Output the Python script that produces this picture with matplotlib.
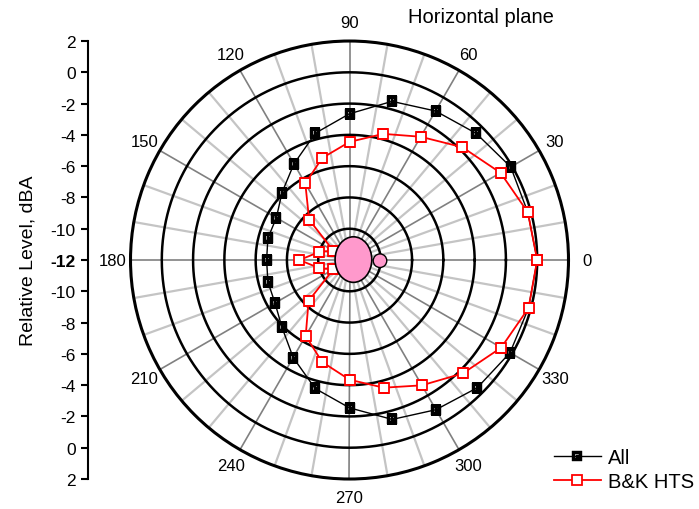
import numpy as np
import matplotlib
matplotlib.use('Agg')
from matplotlib import pyplot as plt
from matplotlib.path import Path
from matplotlib.patches import Ellipse, Circle
from matplotlib.ticker import FixedLocator

plt.rcParams['font.family'] = ['Liberation Sans', 'DejaVu Sans']

# angles in degrees, levels in dBA
angles = [0, 15, 30, 45, 60, 75, 90, 105, 120, 135, 150, 165,
          180, 195, 210, 225, 240, 255, 270, 285, 300, 315, 330, 345]
level_all = [0.0, -0.2, -0.1, -0.55, -1.0, -1.5, -2.65, -3.6, -4.9, -5.9, -6.6, -6.6,
             -6.7, -6.6, -6.5, -5.9, -4.8, -3.5, -2.55, -1.45, -0.95, -0.45, -0.15, -0.15]
level_bk = [0.0, -0.2, -0.85, -1.8, -2.9, -3.65, -4.45, -5.25, -6.35, -8.35, -10.8, -10.0,
            -8.8, -10.0, -10.8, -8.3, -6.4, -5.25, -4.35, -3.55, -2.75, -1.75, -0.8, -0.15]
ring_levels = [0, -2, -4, -6, -8, -10]
left_ticks = [-14, -12, -10, -8, -6, -4, -2, 0, 2, 4, 6, 8, 10, 12, 14]

# close the curves
th = np.deg2rad(angles + [angles[0]])
r_all = level_all + [level_all[0]]
r_bk = level_bk + [level_bk[0]]

# black square marker with a white notch (Origin look)
verts = [(-1, -1), (1, -1), (1, 1), (-1, 1), (-1, -1),
         (-0.55, -0.55), (-0.55, 0.55), (0.55, 0.55), (0.55, -0.55), (-0.55, -0.55),
         (-0.2, -0.55), (0.55, -0.55), (0.55, 0.2), (-0.2, 0.2), (-0.2, -0.55)]
codes = ([Path.MOVETO] + [Path.LINETO] * 3 + [Path.CLOSEPOLY]) * 3
mk_all = Path(verts, codes)

fig = plt.figure(figsize=(6.99, 5.10), dpi=100)
ax = fig.add_axes([0.1867, 0.0588, 0.6266, 0.8588], projection='polar')
ax.set_ylim(-12, 2)

ax.set_xticks(np.deg2rad(np.arange(0, 360, 30)))
ax.set_xticklabels([str(a) for a in range(0, 360, 30)], fontsize=12)
ax.xaxis.set_minor_locator(FixedLocator(np.deg2rad([a for a in range(0, 360, 10) if a % 30])))
ax.grid(True, which='major', axis='x', color='#808080', lw=1.2)
ax.grid(True, which='minor', axis='x', color='#c4c4c4', lw=1.6)
ax.tick_params(axis='x', which='both', direction='in', length=4, width=1, color='black', pad=6)

ax.set_yticks(ring_levels)
ax.set_yticklabels([])
ax.grid(False, axis='y')
ax.tick_params(axis='y', length=0)
ax.spines['polar'].set_linewidth(2.2)

# level rings
circ = np.linspace(0, 2 * np.pi, 361)
for lv in ring_levels:
    ax.plot(circ, np.full_like(circ, lv), color='black', lw=1.8, zorder=2)

ax.plot(th, r_all, color='black', lw=1, marker=mk_all, ms=6.5, mfc='black', mec='black',
        mew=0.3, label='All', zorder=5)
ax.plot(th, r_bk, color='red', lw=1.3, marker='s', ms=6.5, mfc='white', mec='red',
        mew=1.3, label='B&K HTS', zorder=6)

# head sketch in the middle
ax.add_patch(Ellipse((0.509, 0.501), 0.0838, 0.104, transform=ax.transAxes,
                     fc='#ff99cc', ec='black', lw=1.2, zorder=8))
ax.add_patch(Circle((0.5696, 0.4984), 0.0155, transform=ax.transAxes,
                    fc='#ff99cc', ec='black', lw=1, zorder=7))

# left scale
axl = fig.add_axes([0.1259, 0.0588, 0.0001, 0.8588])
axl.set_ylim(-14, 14)
axl.set_yticks(left_ticks)
axl.set_yticklabels([str(abs(t) - 12) for t in left_ticks], fontsize=12.5)
axl.get_yticklabels()[7].set_fontweight('bold')
axl.set_xticks([])
for s in ['top', 'right', 'bottom']:
    axl.spines[s].set_visible(False)
axl.spines['left'].set_linewidth(1.5)
axl.tick_params(axis='y', direction='out', length=5, width=1.5, pad=4)
axl.set_ylabel('Relative Level, dBA', fontsize=14, labelpad=10)

fig.text(0.688, 0.965, 'Horizontal plane', fontsize=14.5, ha='center', va='center')

fig.legend(loc='lower right', bbox_to_anchor=(0.993, 0.035), frameon=False, fontsize=14.5,
           handlelength=2.35, handletextpad=0.35, labelspacing=0.25,
           borderpad=0, borderaxespad=0)

fig.savefig('out.png', dpi=100)
